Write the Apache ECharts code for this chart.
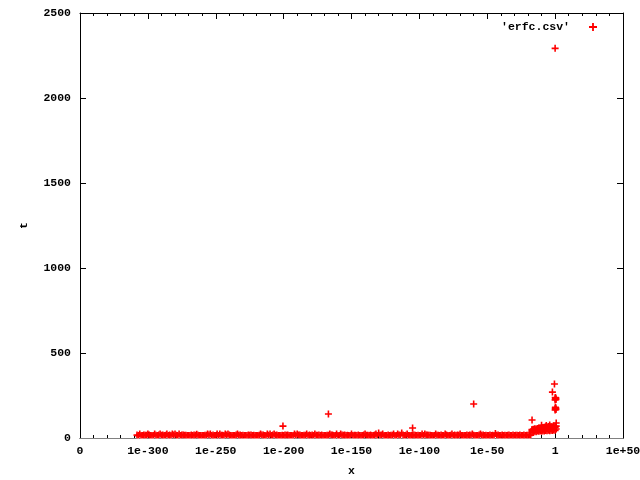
<!DOCTYPE html>
<html>
<head>
<meta charset="utf-8">
<script src="https://cdn.jsdelivr.net/npm/echarts@6/dist/echarts.min.js"></script>
<style>html,body{margin:0;padding:0;background:#fff}#c{width:640px;height:480px}</style>
</head>
<body>
<div id="c"></div>
<script>
// x is plotted on a log10 scale; values below are log10(x)
const xTicks = [-350, -300, -250, -200, -150, -100, -50, 0, 50];
const yTicks = [0, 500, 1000, 1500, 2000, 2500];
const seriesName = "'erfc.csv'";

// dense band of small timings
const bandLogX = [
-308,-307,-306,-305,-304,-303,-302,-301,-300,-299,
-298,-297,-296,-295,-294,-293,-292,-291,-290,-289,
-288,-287,-286,-285,-284,-283,-282,-281,-280,-279,
-278,-277,-276,-275,-274,-273,-272,-271,-270,-269,
-268,-267,-266,-265,-264,-263,-262,-261,-260,-259,
-258,-257,-256,-255,-254,-253,-252,-251,-250,-249,
-248,-247,-246,-245,-244,-243,-242,-241,-240,-239,
-238,-237,-236,-235,-234,-233,-232,-231,-230,-229,
-228,-227,-226,-225,-224,-223,-222,-221,-220,-219,
-218,-217,-216,-215,-214,-213,-212,-211,-210,-209,
-208,-207,-206,-205,-204,-203,-202,-201,-200,-199,
-198,-197,-196,-195,-194,-193,-192,-191,-190,-189,
-188,-187,-186,-185,-184,-183,-182,-181,-180,-179,
-178,-177,-176,-175,-174,-173,-172,-171,-170,-169,
-168,-167,-166,-165,-164,-163,-162,-161,-160,-159,
-158,-157,-156,-155,-154,-153,-152,-151,-150,-149,
-148,-147,-146,-145,-144,-143,-142,-141,-140,-139,
-138,-137,-136,-135,-134,-133,-132,-131,-130,-129,
-128,-127,-126,-125,-124,-123,-122,-121,-120,-119,
-118,-117,-116,-115,-114,-113,-112,-111,-110,-109,
-108,-107,-106,-105,-104,-103,-102,-101,-100,-99,
-98,-97,-96,-95,-94,-93,-92,-91,-90,-89,
-88,-87,-86,-85,-84,-83,-82,-81,-80,-79,
-78,-77,-76,-75,-74,-73,-72,-71,-70,-69,
-68,-67,-66,-65,-64,-63,-62,-61,-60,-59,
-58,-57,-56,-55,-54,-53,-52,-51,-50,-49,
-48,-47,-46,-45,-44,-43,-42,-41,-40,-39,
-38,-37,-36,-35,-34,-33,-32,-31,-30,-29,
-28,-27,-26,-25,-24,-23,-22,-21,-20,-19,
-18
];
const bandT = [
17,14,23,15,15,17,16,16,24,17,
15,14,15,23,16,15,17,23,16,17,
14,16,24,15,17,15,23,17,23,16,
15,23,14,17,17,16,16,15,15,15,
17,14,17,16,22,16,15,15,15,14,
16,16,23,17,23,15,17,15,14,23,
15,24,16,16,15,24,17,23,17,14,
15,15,15,17,23,16,17,14,16,15,
15,15,17,16,17,14,16,15,15,15,
16,23,17,17,14,15,24,16,23,15,
17,23,16,17,15,14,15,16,15,17,
16,17,14,15,15,15,23,16,23,17,
17,14,15,16,16,23,15,17,15,17,
14,23,16,16,17,15,17,15,15,14,
16,16,23,17,17,14,15,23,15,15,
23,17,16,17,14,16,15,15,23,15,
16,16,14,17,15,15,15,17,23,16,
16,14,17,15,15,17,23,15,29,16,
17,23,14,15,15,17,15,16,16,23,
15,14,23,17,16,29,17,15,16,24,
15,15,14,17,17,16,15,16,15,15,
23,14,23,17,17,16,16,15,15,15,
23,16,16,14,17,15,15,23,17,15,
14,16,23,15,17,15,17,16,23,15,
15,14,15,17,15,17,16,23,16,15,
15,14,17,23,16,17,15,16,15,14,
17,15,16,15,26,16,17,14,15,17,
15,16,15,16,17,15,14,17,15,16,
16,15,17,15,14,17,15,16,16,15,
17
];

// step-up cluster close to x = 1
const clusterLogX = [
-17,-17,-17,-16,-16,-16,-15,-15,-15,-14,-14,-14,
-13,-13,-13,-12,-12,-12,-11,-11,-11,-10,-10,-10,-10,
-9,-9,-9,-8,-8,-8,-7,-7,-7,-6.5,-6,-6,-6,-5,-5,-5,
-4,-4,-4,-4,-3,-3,-3,-2,-2,-2,-1,-1,-1,0,0,0,
0.8,0.8,0.8
];
const clusterT = [
38,45,50,36,47,52,40,44,55,37,49,53,
41,46,56,39,50,58,42,48,57,40,52,60,75,
43,50,62,41,55,63,44,53,66,74,42,56,64,45,54,67,
43,58,65,76,46,57,68,44,60,66,47,58,70,45,62,68,
53,70,88
];

// isolated large timings
const outlierLogX = [-200.5, -167, -105, -60, -17, -2, -0.5,
  0.0, 0.3, 0.5, 0.2, 0.6, 0.1,
  0.0, 0.3, 0.5, 0.2, 0.6, 0.1,
  0];
const outlierT = [70, 141, 59, 200, 106, 270, 318,
  224, 230, 236, 233, 227, 238,
  165, 170, 176, 180, 168, 174,
  2292];

const pts = [];
bandLogX.forEach((x, i) => pts.push([x, bandT[i]]));
clusterLogX.forEach((x, i) => pts.push([x, clusterT[i]]));
outlierLogX.forEach((x, i) => pts.push([x, outlierT[i]]));

const plus = 'path://M2.7,0H4.3V2.7H7V4.3H4.3V7H2.7V4.3H0V2.7H2.7Z';
const FONT = 'Liberation Mono';
const txt = {fontFamily: FONT, fontWeight: 'bold', fontSize: 11.5, color: '#000'};
const fmtX = v => v === -350 ? '0' : v === 0 ? '1' : '1e' + (v > 0 ? '+' : '') + v;

const xBase = {
  type: 'value', min: xTicks[0], max: xTicks[xTicks.length - 1], interval: 50,
  axisLine: {show: true, onZero: false, lineStyle: {color: '#000', width: 1}},
  axisTick: {show: true, inside: true, length: 6, lineStyle: {color: '#000'}},
  minorTick: {show: true, splitNumber: 5, length: 3, lineStyle: {color: '#000'}},
  splitLine: {show: false}, minorSplitLine: {show: false}
};
const yBase = {
  type: 'value', min: yTicks[0], max: yTicks[yTicks.length - 1], interval: 500,
  axisLine: {show: true, onZero: false, lineStyle: {color: '#000', width: 1}},
  axisTick: {show: true, inside: true, length: 6, lineStyle: {color: '#000'}},
  splitLine: {show: false}
};

const chart = echarts.init(document.getElementById('c'), null, {renderer: 'canvas'});
chart.setOption({
  animation: false,
  backgroundColor: '#fff',
  grid: {left: 80, right: 17, top: 13, bottom: 42, containLabel: false, outerBoundsMode: 'none'},
  // white strip that clips point markers below the bottom border, as the plotting program does
  graphic: [{
    type: 'rect', left: 80, top: 438.5, z: 100, silent: true,
    shape: {width: 543, height: 5}, style: {fill: '#fff'}
  }],
  legend: {
    data: [seriesName], right: 38, top: 16, align: 'right',
    itemWidth: 36, itemHeight: 8, icon: plus, itemGap: 5,
    textStyle: txt
  },
  xAxis: [
    Object.assign({}, xBase, {
      position: 'bottom', name: 'x', nameLocation: 'middle', nameGap: 27, nameTextStyle: txt,
      axisLabel: Object.assign({}, txt, {margin: 7, formatter: fmtX, showMinLabel: true, showMaxLabel: true})
    }),
    Object.assign({}, xBase, {position: 'top', axisLabel: {show: false}})
  ],
  yAxis: [
    Object.assign({}, yBase, {
      position: 'left', name: 't', nameLocation: 'middle', nameGap: 50, nameRotate: 90, nameTextStyle: txt,
      axisLabel: Object.assign({}, txt, {margin: 9, formatter: v => String(v)})
    }),
    Object.assign({}, yBase, {position: 'right', axisLabel: {show: false}})
  ],
  series: [{
    name: seriesName, type: 'scatter', xAxisIndex: 0, yAxisIndex: 0,
    symbol: plus, symbolSize: 7,
    itemStyle: {color: '#ff0000', opacity: 1},
    data: pts
  }]
});
</script>
</body>
</html>
